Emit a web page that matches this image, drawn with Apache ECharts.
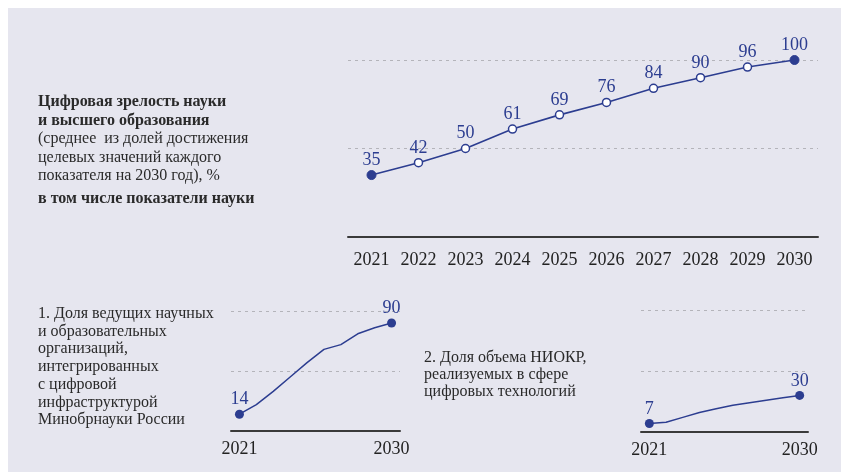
<!DOCTYPE html>
<html>
<head>
<meta charset="utf-8">
<script src="https://cdn.jsdelivr.net/npm/echarts@6/dist/echarts.min.js"></script>
<style>
  html, body { margin: 0; padding: 0; background: #fff; }
  #chart { width: 841px; height: 472px; }
</style>
</head>
<body>
<div id="chart"></div>
<script>
// годы
const years = ['2021', '2022', '2023', '2024', '2025', '2026', '2027', '2028', '2029', '2030']
// цифровая зрелость, %
const maturity = [35, 42, 50, 61, 69, 76, 84, 90, 96, 100]
// 1. доля организаций, интегрированных с цифровой инфраструктурой
const orgShare = [14, 22, 33, 45, 57, 68, 72, 81, 86, 90]
// 2. доля объема НИОКР в сфере цифровых технологий
const rndShare = [7, 8, 12, 16, 19, 22, 24, 26, 28, 30]

const blue = '#2c3d90'
const serif = '"Liberation Serif", "Times New Roman", serif'
const bg = '#e6e6ef'

const endsOnly = (arr) => arr.map((v, i) => {
  const end = i === 0 || i === arr.length - 1
  return {
    value: v,
    symbol: end ? 'circle' : 'none',
    label: { show: end }
  }
})

const mainData = maturity.map((v, i) => {
  const end = i === 0 || i === maturity.length - 1
  return {
    value: v,
    symbolSize: end ? 9 : 8,
    itemStyle: end ? { color: blue, borderColor: blue } : { color: '#fff', borderColor: blue, borderWidth: 1.5 }
  }
})

function xAxisOf(grid, margin, onlyEnds) {
  return {
    gridIndex: grid,
    type: 'category',
    data: years,
    boundaryGap: true,
    axisLine: { lineStyle: { color: '#3a3a3a', width: 2 } },
    axisTick: { show: false },
    axisLabel: {
      color: '#222',
      fontFamily: serif,
      fontSize: 18,
      margin: margin,
      interval: onlyEnds ? (i) => i === 0 || i === years.length - 1 : 0
    }
  }
}

function yAxisOf(grid) {
  return {
    gridIndex: grid,
    type: 'value',
    min: 0,
    max: 100,
    interval: 50,
    axisLine: { show: false },
    axisTick: { show: false },
    axisLabel: { show: false },
    splitLine: { show: true, lineStyle: { color: '#b4b4ba', type: [3, 4], width: 1 } }
  }
}

const labelStyle = {
  show: true,
  position: 'top',
  distance: 1,
  color: blue,
  fontFamily: serif,
  fontSize: 18
}

const textLine = (x, y, text, bold, lh) => ({
  type: 'text',
  left: x,
  top: y,
  style: {
    text: text,
    fill: '#2a2a2a',
    font: (bold ? 'bold ' : '') + '16px ' + serif,
    lineHeight: lh
  }
})

const option = {
  backgroundColor: '#fff',
  animation: false,
  graphic: [
    { type: 'rect', left: 8, top: 8, shape: { width: 833, height: 464 }, style: { fill: bg }, z: -10 },
    textLine(38, 92, 'Цифровая зрелость науки\nи высшего образования', true, 19),
    textLine(38, 130, '(среднее  из долей достижения\nцелевых значений каждого\nпоказателя на 2030 год), %', false, 18.5),
    textLine(38, 190, 'в том числе показатели науки', true, 18),
    textLine(38, 305, '1. Доля ведущих научных\nи образовательных\nорганизаций,\nинтегрированных\nс цифровой\nинфраструктурой\nМинобрнауки России', false, 17.7),
    textLine(424, 349, '2. Доля объема НИОКР,\nреализуемых в сфере\nцифровых технологий', false, 17)
  ],
  grid: [
    { left: 348, top: 60, width: 470, height: 177 },
    { left: 231, top: 311, width: 169, height: 120 },
    { left: 641, top: 310, width: 167, height: 122 }
  ],
  xAxis: [xAxisOf(0, 14, false), xAxisOf(1, 9, true), xAxisOf(2, 9, true)],
  yAxis: [yAxisOf(0), yAxisOf(1), yAxisOf(2)],
  series: [
    {
      type: 'line',
      xAxisIndex: 0,
      yAxisIndex: 0,
      data: mainData,
      symbol: 'circle',
      lineStyle: { color: blue, width: 1.6 },
      label: labelStyle,
      z: 5
    },
    {
      type: 'line',
      xAxisIndex: 1,
      yAxisIndex: 1,
      data: endsOnly(orgShare),
      symbolSize: 9,
      itemStyle: { color: blue },
      lineStyle: { color: blue, width: 1.5 },
      label: labelStyle,
      z: 5
    },
    {
      type: 'line',
      xAxisIndex: 2,
      yAxisIndex: 2,
      data: endsOnly(rndShare),
      symbolSize: 9,
      itemStyle: { color: blue },
      lineStyle: { color: blue, width: 1.5 },
      label: labelStyle,
      z: 5
    }
  ]
}

const chart = echarts.init(document.getElementById('chart'))
chart.setOption(option)
</script>
</body>
</html>
